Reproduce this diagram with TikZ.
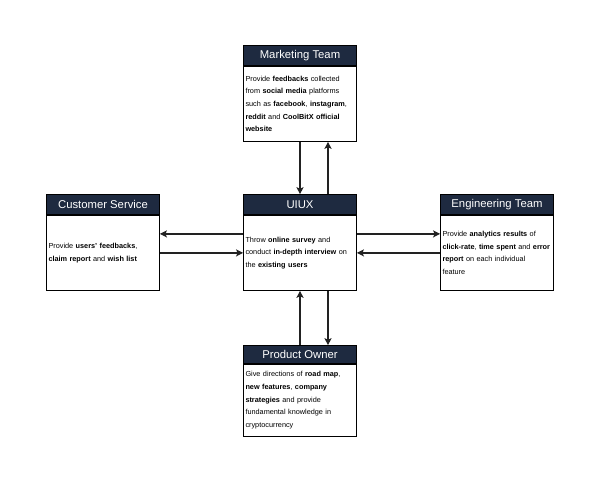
\documentclass[tikz,border=0pt]{standalone}
\usepackage{fontspec}
\setmainfont{Liberation Sans}
\usetikzlibrary{arrows.meta}
\definecolor{hdr}{HTML}{1E2A40}
\definecolor{lnc}{HTML}{222222}
\begin{document}
\begin{tikzpicture}[x=1pt,y=-1pt,
  hd/.style={fill=hdr, draw=black, line width=0.8pt, text=white,
    font=\fontsize{11.3}{13}\selectfont, minimum width=113pt, minimum height=20pt,
    inner sep=0pt, anchor=south},
  bd/.style={draw=black, fill=white, line width=0.8pt, minimum width=113pt,
    minimum height=75pt, inner xsep=2pt, inner ysep=0pt, anchor=north, align=left,
    text width=109pt, font=\fontsize{7.3}{12.7}\selectfont},
  arr/.style={draw=lnc, line width=1.2pt, -{Stealth[length=7pt,width=7pt,inset=1.5pt]}}]
\fill[white] (0,0) rectangle (600,488);
\useasboundingbox (0,0) rectangle (600,488);

\node[bd] (mkb) at (300,66) {Provide \textbf{feedbacks} collected\\ from \textbf{social media} platforms\\ such as \textbf{facebook}, \textbf{instagram},\\ \textbf{reddit} and \textbf{CoolBitX official}\\ \textbf{website}};
\node[hd] (mkh) at (300,66) {Marketing Team};

\node[bd] (csb) at (103,215) {Provide \textbf{users' feedbacks},\\ \textbf{claim report} and \textbf{wish list}};
\node[hd] (csh) at (103,215) {Customer Service};

\node[bd] (uib) at (300,215) {Throw \textbf{online survey} and\\ conduct \textbf{in-depth interview} on\\ the \textbf{existing users}};
\node[hd] (uih) at (300,215) {UIUX};

\node[bd] (egb) at (497,215) {Provide \textbf{analytics results} of\\ \textbf{click-rate}, \textbf{time spent} and \textbf{error}\\ \textbf{report} on each individual\\ feature};
\node[hd] (egh) at (497,215) {Engineering Team};

\node[bd, minimum height=72pt] (pob) at (300,364) {Give directions of \textbf{road map},\\ \textbf{new features}, \textbf{company}\\ \textbf{strategies} and provide\\ fundamental knowledge in\\ cryptocurrency};
\node[hd, minimum height=18pt] (poh) at (300,364) {Product Owner};

% Marketing <-> UIUX
\draw[arr] (mkb.south) -- (uih.north);
\draw[arr] ([xshift=28pt]uih.north) -- ([xshift=28pt]mkb.south);
% Customer Service <-> UIUX
\draw[arr] ([yshift=19pt]uib.west) -- ([yshift=19pt]csb.east);
\draw[arr] (csb.east) -- (uib.west);
% Engineering <-> UIUX
\draw[arr] ([yshift=19pt]uib.east) -- ([yshift=19pt]egb.west);
\draw[arr] (egb.west) -- (uib.east);
% Product Owner <-> UIUX
\draw[arr] (poh.north) -- (uib.south);
\draw[arr] ([xshift=28pt]uib.south) -- ([xshift=28pt]poh.north);
\end{tikzpicture}
\end{document}
